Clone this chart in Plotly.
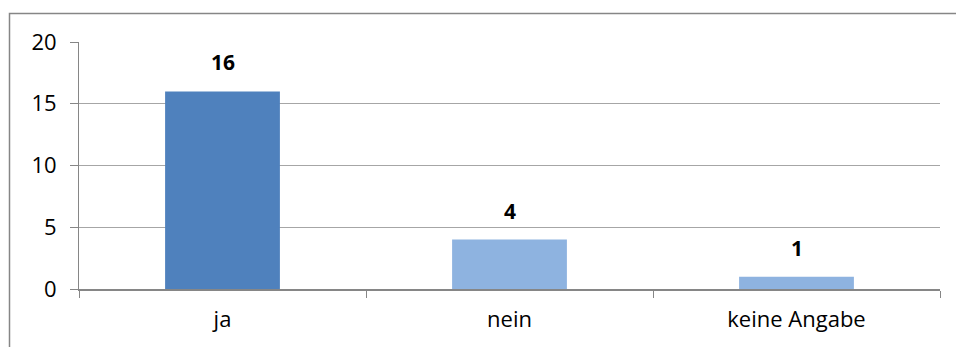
import plotly.graph_objects as go

categories = ["ja", "nein", "keine Angabe"]
values = [16, 4, 1]
bar_colors = ["#4F81BD", "#8EB3E0", "#8EB3E0"]
y_ticks = [0, 5, 10, 15, 20]

W, H = 956, 347
L, R, T, B = 79, 16, 42, 58
pw = W - L - R
ph = H - T - B
FONT = "Open Sans, Noto Sans, sans-serif"

fig = go.Figure(
    go.Bar(
        x=categories,
        y=values,
        marker=dict(color=bar_colors, line=dict(width=0)),
        width=0.4,
        hoverinfo="x+y",
    )
)

# bold value labels above each bar
for c, v in zip(categories, values):
    fig.add_annotation(
        x=c, y=v, xref="x", yref="y",
        text=f"<b>{v}</b>", showarrow=False,
        yanchor="bottom", yshift=13,
        font=dict(family=FONT, size=21, color="#000000"),
    )

fig.update_layout(
    width=W,
    height=H,
    margin=dict(l=L, r=R, t=T, b=B),
    paper_bgcolor="white",
    plot_bgcolor="white",
    showlegend=False,
    font=dict(family=FONT, size=22, color="#000000"),
)

fig.update_yaxes(
    range=[0, 20],
    tickvals=y_ticks,
    showgrid=True,
    gridcolor="#A6A6A6",
    gridwidth=1,
    showline=True,
    linecolor="#868686",
    linewidth=1,
    ticks="outside",
    ticklen=8,
    tickcolor="#868686",
    zeroline=False,
    ticklabelstandoff=9,
)

fig.update_xaxes(
    showline=True,
    linecolor="#868686",
    linewidth=2,
    ticks="outside",
    tickson="boundaries",
    ticklen=7,
    tickcolor="#868686",
    tickwidth=1,
    showgrid=False,
    ticklabelstandoff=10,
)

# outer chart frame: left and top edges as one open path in pixel space
fig.add_shape(
    type="path", xref="paper", yref="paper", xsizemode="pixel", ysizemode="pixel",
    xanchor=0, yanchor=0,
    path=f"M {9.5 - L},{-(H - B) + 1} L {9.5 - L},{H - B - 13.5} L {W - L},{H - B - 13.5}",
    line=dict(color="#868686", width=1.5),
)

fig.write_html("out.html", config={"displayModeBar": False})
